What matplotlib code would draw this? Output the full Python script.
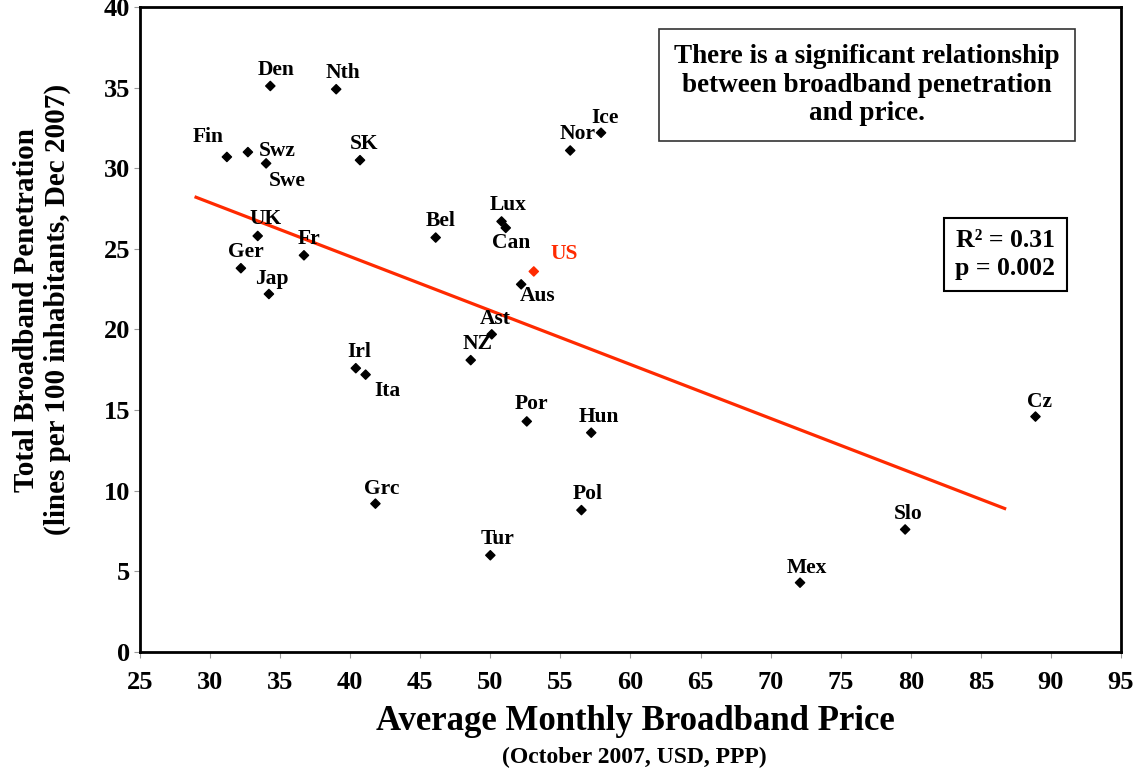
import matplotlib.pyplot as plt
import numpy as np

# Data
countries = ['Den', 'Nth', 'Fin', 'Swz', 'Swe', 'SK', 'Ice', 'Nor', 'UK', 'Fr',
             'Ger', 'Jap', 'Bel', 'Lux', 'Can', 'US', 'Aus', 'Ast', 'NZ', 'Irl',
             'Ita', 'Por', 'Hun', 'Cz', 'Grc', 'Pol', 'Tur', 'Slo', 'Mex']
price = [34.3, 39.0, 31.2, 32.7, 34.0, 40.7, 57.9, 55.7, 33.4, 36.7,
         32.2, 34.2, 46.1, 50.8, 51.1, 53.1, 52.2, 50.1, 48.6, 40.4,
         41.1, 52.6, 57.2, 88.9, 41.8, 56.5, 50.0, 79.6, 72.1]
penetration = [35.1, 34.9, 30.7, 31.0, 30.3, 30.5, 32.2, 31.1, 25.8, 24.6,
               23.8, 22.2, 25.7, 26.7, 26.3, 23.6, 22.8, 19.7, 18.1, 17.6,
               17.2, 14.3, 13.6, 14.6, 9.2, 8.8, 6.0, 7.6, 4.3]
trend_x = [29.0, 86.7]
trend_y = [28.2, 8.9]

x_ticks = np.arange(25, 96, 5)
y_ticks = np.arange(0, 41, 5)

# label offsets in pixels (dx, dy), dy up
offsets = {'Den': (6, 16), 'Nth': (7, 16), 'Fin': (-19, 20), 'Swz': (29, 1),
           'Swe': (21, -18), 'SK': (4, 16), 'Ice': (4, 15), 'Nor': (7, 16),
           'UK': (8, 17), 'Fr': (5, 16), 'Ger': (5, 16), 'Jap': (3, 15),
           'Bel': (5, 17), 'Lux': (7, 16), 'Can': (5, -15), 'US': (30, 17),
           'Aus': (16, -12), 'Ast': (3, 15), 'NZ': (7, 16), 'Irl': (3, 16),
           'Ita': (22, -16), 'Por': (5, 17), 'Hun': (8, 16), 'Cz': (4, 15),
           'Grc': (6, 15), 'Pol': (6, 16), 'Tur': (7, 16), 'Slo': (3, 15),
           'Mex': (7, 15)}

plt.rcParams['font.family'] = 'Liberation Serif'
plt.rcParams['font.weight'] = 'bold'

red = '#ff2a00'

fig = plt.figure(figsize=(11.4, 7.74), dpi=100)
ax = fig.add_axes([0.1228, 0.1576, 0.8605, 0.8334])

colors = [red if c == 'US' else 'black' for c in countries]
ax.plot(trend_x, trend_y, color=red, linewidth=2.3, zorder=2)
ax.scatter(price, penetration, marker='D', s=22, c=colors, zorder=3)

for c, px, py, col in zip(countries, price, penetration, colors):
    dx, dy = offsets[c]
    ax.annotate(c, (px, py), xytext=(dx, dy), textcoords='offset pixels',
                ha='center', va='center', fontsize=15.5, fontweight='bold',
                color=col, zorder=4)

ax.set_xlim(25, 95)
ax.set_ylim(0, 40)
ax.set_xticks(x_ticks)
ax.set_yticks(y_ticks)
ax.tick_params(axis='both', direction='out', length=4, width=0.8,
               color='#999999', labelsize=19, pad=3)
ax.tick_params(axis='x', pad=10)
for s in ax.spines.values():
    s.set_linewidth(2)

fig.text(0.037, 0.6, 'Total Broadband Penetration\n(lines per 100 inhabitants, Dec 2007)',
         rotation=90, ha='center', va='center', fontsize=21, fontweight='bold',
         linespacing=1.2)
fig.text(0.557, 0.068, 'Average Monthly Broadband Price', ha='center', va='center',
         fontsize=25, fontweight='bold')
fig.text(0.556, 0.022, '(October 2007, USD, PPP)', ha='center', va='center',
         fontsize=17, fontweight='bold')

ax.text(0.741, 0.879, 'There is a significant relationship\nbetween broadband penetration\nand price.',
        transform=ax.transAxes, ha='center', va='center', fontsize=19.5,
        fontweight='bold', linespacing=1.2,
        bbox=dict(boxstyle='square,pad=0.55', facecolor='white', edgecolor='#333333', linewidth=1.2))
ax.text(0.882, 0.616, 'R² = 0.31\np = 0.002', transform=ax.transAxes,
        ha='center', va='center', fontsize=18.5, fontweight='bold', linespacing=1.25,
        bbox=dict(boxstyle='square,pad=0.45', facecolor='white', edgecolor='black', linewidth=1.5))

fig.savefig('out.png', dpi=100)
